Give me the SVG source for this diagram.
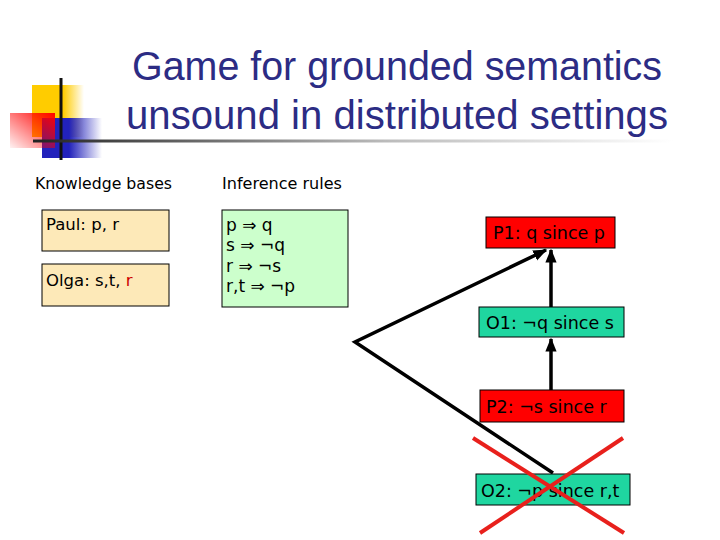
<svg xmlns="http://www.w3.org/2000/svg" width="720" height="540" viewBox="0 0 720 540">
<defs>
<linearGradient id="gy" x1="0" y1="0" x2="1" y2="0"><stop offset="0" stop-color="#ffcc00"/><stop offset="0.6" stop-color="#ffcc00"/><stop offset="1" stop-color="#ffcc00" stop-opacity="0"/></linearGradient>
<linearGradient id="gr" x1="1" y1="0" x2="0" y2="1"><stop offset="0" stop-color="#ff0000"/><stop offset="1" stop-color="#ff0000" stop-opacity="0.05"/></linearGradient>
<linearGradient id="gb" x1="0" y1="0" x2="1" y2="0"><stop offset="0" stop-color="#2222bb"/><stop offset="0.45" stop-color="#2222bb"/><stop offset="1" stop-color="#2222bb" stop-opacity="0"/></linearGradient>
<linearGradient id="gl" x1="0" y1="0" x2="1" y2="0"><stop offset="0" stop-color="#222"/><stop offset="0.55" stop-color="#bbb"/><stop offset="1" stop-color="#fff"/></linearGradient>
<marker id="ah" viewBox="0 0 10 10" refX="9" refY="5" markerWidth="4" markerHeight="4" orient="auto" markerUnits="strokeWidth"><path d="M0,1 L10,5 L0,9 z" fill="#000"/></marker>
<style>
.t{font-family:"Liberation Sans",Arial,sans-serif;fill:#2c2c84;font-size:40px;text-anchor:middle}
.h{font-family:"DejaVu Sans","Liberation Sans",sans-serif;font-size:15px;fill:#000}
.b{font-family:"DejaVu Sans","Liberation Sans",sans-serif;font-size:16.5px;fill:#000}
.r{font-family:"DejaVu Sans","Liberation Sans",sans-serif;font-size:17px;fill:#000}
.n{font-family:"DejaVu Sans","Liberation Sans",sans-serif;font-size:17.5px;fill:#000}
.kb{fill:#fde9b8;stroke:#000;stroke-width:1}
.ir{fill:#ccffcc;stroke:#000;stroke-width:1}
.p{fill:#ff0000;stroke:#000;stroke-width:1}
.o{fill:#1fd6a0;stroke:#000;stroke-width:1}
.c{fill:none;stroke:#000;stroke-width:3.5}
.x{stroke:#e8201c;stroke-width:4}
</style>
</defs>
<rect width="720" height="540" fill="#fff"/>
<g id="logo">
<rect x="32" y="85" width="52" height="52" fill="url(#gy)"/>
<rect x="42" y="118" width="60" height="40" fill="url(#gb)"/>
<rect x="10" y="113" width="45" height="35" fill="url(#gr)"/>
<line x1="61" y1="78" x2="61" y2="160" stroke="#111" stroke-width="3"/>
<rect x="33" y="139.5" width="640" height="3" fill="url(#gl)"/>
</g>
<g id="title">
<text class="t" x="397" y="80" textLength="530" lengthAdjust="spacingAndGlyphs">Game for grounded semantics</text>
<text class="t" x="397" y="129" textLength="542" lengthAdjust="spacingAndGlyphs">unsound in distributed settings</text>
</g>
<text class="h" x="35" y="189" textLength="137" lengthAdjust="spacingAndGlyphs">Knowledge bases</text>
<text class="h" x="222" y="189" textLength="120" lengthAdjust="spacingAndGlyphs">Inference rules</text>
<g id="paul">
<rect class="kb" x="42" y="210" width="127" height="41"/>
<text class="b" x="46" y="230">Paul: p, r</text>
</g>
<g id="olga">
<rect class="kb" x="42" y="264" width="127" height="42"/>
<text class="b" x="46" y="286">Olga: s,t, <tspan fill="#cc0000">r</tspan></text>
</g>
<g id="rules">
<rect class="ir" x="222" y="210" width="126" height="97"/>
<text class="r" x="226" y="231">p ⇒ q</text>
<text class="r" x="226" y="251">s ⇒ ¬q</text>
<text class="r" x="226" y="272">r ⇒ ¬s</text>
<text class="r" x="226" y="292">r,t ⇒ ¬p</text>
</g>
<g id="connectors">
<line class="c" x1="551" y1="307" x2="551" y2="250" marker-end="url(#ah)"/>
<line class="c" x1="551" y1="390" x2="551" y2="339" marker-end="url(#ah)"/>
<polyline class="c" points="553,473 355,342 546,250" marker-end="url(#ah)"/>
</g>
<g id="P1">
<rect class="p" x="486" y="217" width="129" height="31"/>
<text class="n" x="493" y="239" fill="#300">P1: q since p</text>
</g>
<g id="O1">
<rect class="o" x="479" y="307" width="145" height="30"/>
<text class="n" x="486" y="329">O1: ¬q since s</text>
</g>
<g id="P2">
<rect class="p" x="480" y="390" width="144" height="32"/>
<text class="n" x="486" y="413" fill="#300">P2: ¬s since r</text>
</g>
<g id="O2">
<rect class="o" x="476" y="474" width="154" height="31"/>
<text class="n" x="481" y="497">O2: ¬p since r,t</text>
</g>
<g id="cross">
<line class="x" x1="473" y1="438" x2="624" y2="533"/>
<line class="x" x1="623" y1="438" x2="480" y2="533"/>
</g>
</svg>
